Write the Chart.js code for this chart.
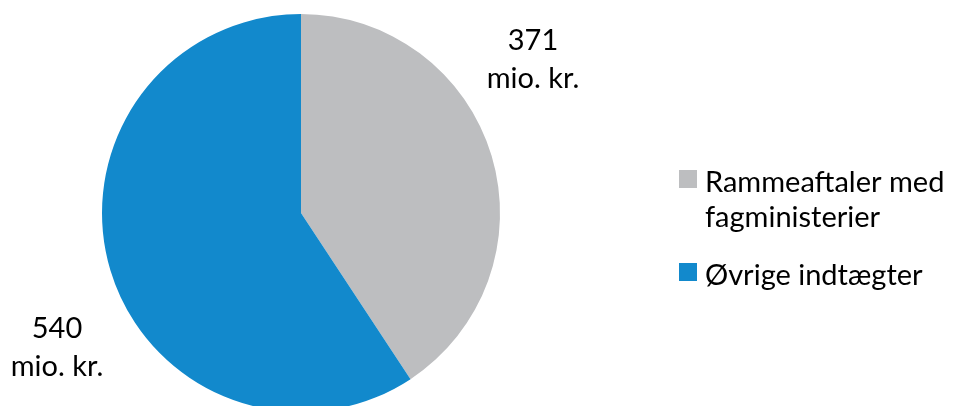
<!DOCTYPE html>
<html>
<head>
<meta charset="utf-8">
<script src="https://cdn.jsdelivr.net/npm/chart.js@4"></script>
<style>
  html, body { margin: 0; padding: 0; background: #fff; overflow: hidden; }
  #wrap { width: 957px; height: 420px; position: relative; }
</style>
</head>
<body>
<div id="wrap"><canvas id="pie"></canvas></div>
<script>
var categories = ['Rammeaftaler med fagministerier', 'Øvrige indtægter'];
var legend_lines = [['Rammeaftaler med', 'fagministerier'], ['Øvrige indtægter']];
var values = [371, 540];
var value_labels = [['371', 'mio. kr.'], ['540', 'mio. kr.']];
var colours = ['#BDBEC0', '#1289CC'];

var font_name = 'Lato, "Open Sans", sans-serif';

// draws the value labels and the legend on the right
var extras = {
    id: 'extras',
    afterDraw: function(chart) {
        var ctx = chart.ctx;
        ctx.save();
        ctx.fillStyle = '#000';
        ctx.font = '29px ' + font_name;
        ctx.textAlign = 'center';
        ctx.textBaseline = 'alphabetic';
        // value labels
        var label_pos = [[533, 50], [57, 338]];
        for (var i = 0; i < value_labels.length; i++) {
            ctx.fillText(value_labels[i][0], label_pos[i][0], label_pos[i][1]);
            ctx.fillText(value_labels[i][1], label_pos[i][0], label_pos[i][1] + 38);
        }
        // legend
        ctx.textAlign = 'left';
        var y = 192;
        for (var j = 0; j < categories.length; j++) {
            ctx.fillStyle = colours[j];
            ctx.fillRect(679, y - 22, 18, 18);
            ctx.fillStyle = '#000';
            for (var k = 0; k < legend_lines[j].length; k++) {
                ctx.fillText(legend_lines[j][k], 705, y + k * 35);
            }
            y += legend_lines[j].length * 35 + 23;
        }
        ctx.restore();
    }
};

var myChart = new Chart(document.getElementById('pie'), {
    type: 'pie',
    data: {
        labels: categories,
        datasets: [{
            data: values,
            backgroundColor: colours,
            borderWidth: 0
        }]
    },
    options: {
        responsive: true,
        maintainAspectRatio: false,
        animation: false,
        layout: { padding: { top: 14, bottom: 8, left: 102, right: 457 } },
        plugins: {
            legend: { display: false },
            tooltip: { enabled: false }
        }
    },
    plugins: [extras]
});
window.myChart = myChart;
</script>
</body>
</html>
